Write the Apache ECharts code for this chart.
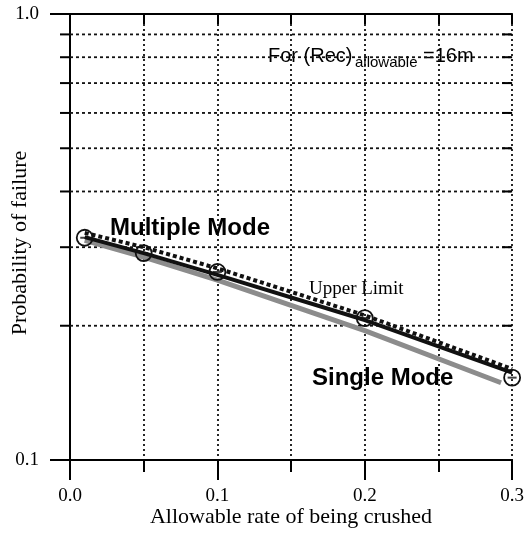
<!DOCTYPE html>
<html>
<head>
<meta charset="utf-8">
<script src="https://cdn.jsdelivr.net/npm/echarts@6/dist/echarts.min.js"></script>
<style>html,body{margin:0;padding:0;background:#fff;}#c{width:527px;height:533px;}</style>
</head>
<body>
<div id="c"></div>
<script>
// ---- data ----
const xPoints = [0.01, 0.05, 0.1, 0.2, 0.3];
const multipleMode = [0.316, 0.291, 0.260, 0.206, 0.157];
const upperLimit = [0.323, 0.300, 0.269, 0.211, 0.160];
const singleModeX = [0.01, 0.05, 0.1, 0.2, 0.2925];
const singleMode = [0.311, 0.285, 0.253, 0.195, 0.149];
const circleValues = [0.315, 0.291, 0.264, 0.208, 0.153];
const yGridValues = [0.2, 0.3, 0.4, 0.5, 0.6, 0.7, 0.8, 0.9];
const yTickLabels = {"0.1": "0.1", "1": "1.0"};
const xTickLabels = ["0.0", "0.1", "0.2", "0.3"];

const pair = (xs, ys) => xs.map((x, i) => [x, ys[i]]);
const serif = 'Liberation Serif';

const chart = echarts.init(document.getElementById('c'), null, {renderer: 'canvas'});
chart.setOption({
  animation: false,
  backgroundColor: '#fff',
  grid: {left: 70, right: 14, top: 14, bottom: 73, containLabel: false},
  xAxis: [{
    type: 'value', min: 0, max: 0.3, interval: 0.1, position: 'bottom',
    axisLine: {lineStyle: {color: '#000', width: 2}},
    axisTick: {show: true, inside: false, length: 20, lineStyle: {color: '#000', width: 2}},
    minorTick: {show: true, splitNumber: 2, length: 12, lineStyle: {color: '#000', width: 2}},
    splitLine: {show: true, lineStyle: {color: '#111', width: 1.8, type: [2, 3]}},
    minorSplitLine: {show: true, lineStyle: {color: '#111', width: 1.8, type: [2, 3]}},
    axisLabel: {margin: 27, fontFamily: serif, fontSize: 19, color: '#000',
      formatter: v => xTickLabels[Math.round(v * 10)]}
  }, {
    type: 'value', min: 0, max: 0.3, interval: 0.1, position: 'top',
    axisLine: {lineStyle: {color: '#000', width: 2}},
    axisTick: {show: true, inside: true, length: 10, lineStyle: {color: '#000', width: 2}},
    minorTick: {show: true, splitNumber: 2, length: 10, lineStyle: {color: '#000', width: 2}},
    splitLine: {show: false}, axisLabel: {show: false}
  }],
  yAxis: [{
    type: 'log', logBase: 10, min: 0.1, max: 1, position: 'left',
    axisLine: {show: true, lineStyle: {color: '#000', width: 2}},
    axisTick: {show: true, inside: false, length: 20, lineStyle: {color: '#000', width: 2}},
    minorTick: {show: false},
    splitLine: {show: false},
    axisLabel: {margin: 31, fontFamily: serif, fontSize: 19, color: '#000',
      formatter: v => yTickLabels[String(+v.toPrecision(3))] || ''}
  }, {
    type: 'log', logBase: 10, min: 0.1, max: 1, position: 'right',
    axisLine: {show: true, lineStyle: {color: '#000', width: 2}},
    axisTick: {show: false}, splitLine: {show: false}, axisLabel: {show: false}
  }],
  graphic: [
    {type: 'text', x: 20, y: 243, rotation: Math.PI / 2,
      style: {text: 'Probability of failure', font: '22px "Liberation Serif"', fill: '#000', textAlign: 'center', textVerticalAlign: 'middle'}},
    {type: 'text', x: 291, y: 517,
      style: {text: 'Allowable rate of being crushed', font: '22px "Liberation Serif"', fill: '#000', textAlign: 'center', textVerticalAlign: 'middle'}},
    {type: 'text', x: 110, y: 228,
      style: {text: 'Multiple Mode', font: 'bold 24px "Liberation Sans"', fill: '#000', textAlign: 'left', textVerticalAlign: 'middle'}},
    {type: 'text', x: 312, y: 378,
      style: {text: 'Single Mode', font: 'bold 24px "Liberation Sans"', fill: '#000', textAlign: 'left', textVerticalAlign: 'middle'}},
    {type: 'text', x: 309, y: 289,
      style: {text: 'Upper Limit', font: '19px "Liberation Serif"', fill: '#000', textAlign: 'left', textVerticalAlign: 'middle'}},
    {type: 'text', x: 268, y: 56,
      style: {text: 'For (Rec)', font: '20px "Liberation Sans"', fill: '#000', textAlign: 'left', textVerticalAlign: 'middle'}},
    {type: 'text', x: 355, y: 63,
      style: {text: 'allowable', font: '15px "Liberation Sans"', fill: '#000', textAlign: 'left', textVerticalAlign: 'middle'}},
    {type: 'text', x: 423, y: 56,
      style: {text: '=16m', font: '20px "Liberation Sans"', fill: '#000', textAlign: 'left', textVerticalAlign: 'middle'}}
  ],
  series: [
    {
      type: 'custom', name: 'grid', xAxisIndex: 0, yAxisIndex: 0, silent: true, z: 1, clip: false,
      data: yGridValues.map(v => [0, v]),
      renderItem: (params, api) => {
        const v = api.value(1);
        const p0 = api.coord([0, v]);
        const p1 = api.coord([0.3, v]);
        return {type: 'group', children: [
          {type: 'line', shape: {x1: p0[0], y1: p0[1], x2: p1[0], y2: p1[1]}, style: {stroke: '#111', lineWidth: 1.8, lineDash: [3, 3]}},
          {type: 'line', shape: {x1: p0[0] - 10, y1: p0[1], x2: p0[0], y2: p0[1]}, style: {stroke: '#000', lineWidth: 2}},
          {type: 'line', shape: {x1: p1[0] - 10, y1: p1[1], x2: p1[0], y2: p1[1]}, style: {stroke: '#000', lineWidth: 2}}
        ]};
      }
    },
    {type: 'line', name: 'Single Mode', data: pair(singleModeX, singleMode), showSymbol: false, symbol: 'none',
      lineStyle: {color: '#8c8c8c', width: 5}, z: 3},
    {type: 'line', name: 'Multiple Mode', data: pair(xPoints, multipleMode), showSymbol: false, symbol: 'none',
      lineStyle: {color: '#111', width: 4}, z: 4},
    {type: 'line', name: 'Upper Limit', data: pair(xPoints, upperLimit), showSymbol: false, symbol: 'none',
      lineStyle: {color: '#111', width: 4, type: [4, 3]}, z: 5},
    {type: 'scatter', name: 'points', data: pair(xPoints, circleValues), symbol: 'circle', symbolSize: 16,
      itemStyle: {color: 'rgba(0,0,0,0)', borderColor: '#111', borderWidth: 1.8, opacity: 1}, z: 6},
    {type: 'scatter', name: 'pointMarks', data: pair(xPoints, circleValues), symbol: 'rect', symbolSize: [9, 2],
      itemStyle: {color: '#111'}, z: 7}
  ]
});
</script>
</body>
</html>
